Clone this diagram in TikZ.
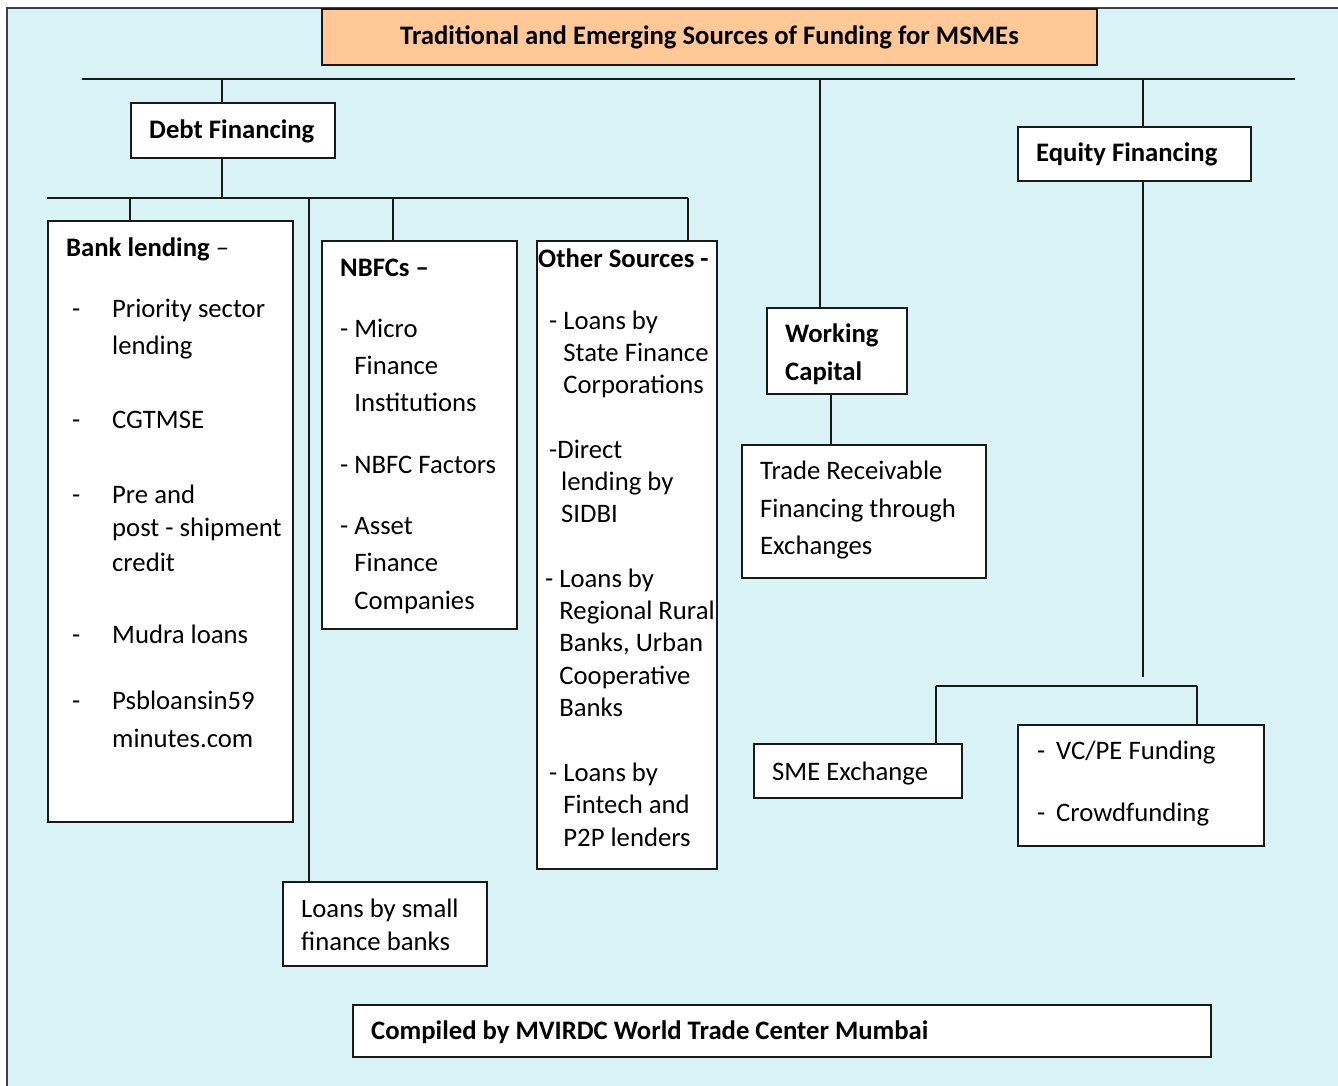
\documentclass[tikz,border=0pt]{standalone}
\usepackage{fontspec}
\setmainfont{Carlito}
\definecolor{paneblue}{HTML}{DAF3F7}
\definecolor{titlepeach}{HTML}{FFC896}

\begin{document}
\begin{tikzpicture}[
      x=1pt,y=-1pt,
      font=\fontsize{26.7}{37}\selectfont,
      panel/.style 2 args={draw=black!90,line width=2pt,fill=white,anchor=north west,inner sep=0pt,minimum width=#1,minimum height=#2},
      words/.style={anchor=base west,inner sep=0pt},
      link/.style={draw=black!90,line width=2pt},
    ]
    \useasboundingbox (0,0) rectangle (1338,1086);
    \fill[paneblue] (7,8) rectangle (1345,1095);
    \draw[black!75,line width=1.5pt] (1345,8) -- (7,8) -- (7,1095);

    % boxes
    \node[panel={775pt}{56pt},fill=titlepeach] (title) at (321,8) {\textbf{Traditional and Emerging Sources of Funding for MSMEs}};
    \node[panel={204pt}{55pt}] (debt) at (130,102) {};
    \node[panel={233pt}{54pt}] (equity) at (1017,126) {};
    \node[panel={245pt}{601pt}] (bank) at (47,220) {};
    \node[panel={195pt}{388pt}] (nbfc) at (321,240) {};
    \node[panel={180pt}{628pt}] (other) at (536,240) {};
    \node[panel={204pt}{84pt}] (small banks) at (282,881) {};
    \node[panel={140pt}{86pt}] (working) at (766,307) {};
    \node[panel={244pt}{133pt}] (trade) at (741,444) {};
    \node[panel={208pt}{54pt}] (sme) at (753,743) {};
    \node[panel={246pt}{121pt}] (vcpe) at (1017,724) {};
    \node[panel={858pt}{52pt}] (compiled) at (352,1004) {};

    % texts
    \node[words] (debt text) at (149,139) {\textbf{Debt Financing}};
    \node[words] (equity text) at (1036,162) {\textbf{Equity Financing}};
    \node[words] (bank text) at (66,256) {\begin{tabular}[t]{@{}p{46pt}@{}l@{}}
      \multicolumn{2}{@{}l@{}}{\textbf{Bank lending} –}\\[24pt]
      \hspace*{6pt}- & Priority sector\\
      & lending\\[37pt]
      \hspace*{6pt}- & CGTMSE\\[38pt]
      \hspace*{6pt}- & Pre and\\[-4pt]
      & post - shipment\\[-2pt]
      & credit\\[35pt]
      \hspace*{6pt}- & Mudra loans\\[29pt]
      \hspace*{6pt}- & Psbloansin59\\[1pt]
      & minutes.com
    \end{tabular}};
    \node[words] (nbfc text) at (340,276) {\begin{tabular}[t]{@{}l@{}}
      \textbf{NBFCs –}\\[24pt]
      - Micro\\
      \phantom{- }Finance\\
      \phantom{- }Institutions\\[25pt]
      - NBFC Factors\\[24pt]
      - Asset\\
      \phantom{- }Finance\\[1pt]
      \phantom{- }Companies
    \end{tabular}};
    \node[words,font=\fontsize{26.7}{32}\selectfont] (other text) at (538,267) {\begin{tabular}[t]{@{}l@{}}
      \textbf{Other Sources -}\\[30pt]
      \hspace*{11pt}- Loans by\\
      \hspace*{11pt}\phantom{- }State Finance\\
      \hspace*{11pt}\phantom{- }Corporations\\[33pt]
      \hspace*{11pt}-Direct\\
      \hspace*{23pt}lending by\\
      \hspace*{23pt}SIDBI\\[33pt]
      \hspace*{7pt}- Loans by\\
      \hspace*{7pt}\phantom{- }Regional Rural\\
      \hspace*{7pt}\phantom{- }Banks, Urban\\[1pt]
      \hspace*{7pt}\phantom{- }Cooperative\\
      \hspace*{7pt}\phantom{- }Banks\\[33pt]
      \hspace*{11pt}- Loans by\\
      \hspace*{11pt}\phantom{- }Fintech and\\[1pt]
      \hspace*{11pt}\phantom{- }P2P lenders
    \end{tabular}};
    \node[words] (small banks text) at (301,917) {\begin{tabular}[t]{@{}l@{}}
      Loans by small\\[-4pt]
      finance banks
    \end{tabular}};
    \node[words] (working text) at (785,342) {\begin{tabular}[t]{@{}l@{}}
      \textbf{Working}\\[1pt]
      \textbf{Capital}
    \end{tabular}};
    \node[words] (trade text) at (760,479) {\begin{tabular}[t]{@{}l@{}}
      Trade Receivable\\[1pt]
      Financing through\\
      Exchanges
    \end{tabular}};
    \node[words] (sme text) at (772,780) {SME Exchange};
    \node[words] (vcpe text) at (1037,759) {\begin{tabular}[t]{@{}l@{}}
      \makebox[19pt][l]{-}VC/PE Funding\\[25pt]
      \makebox[19pt][l]{-}Crowdfunding
    \end{tabular}};
    \node[words] (compiled text) at (371,1039) {\textbf{Compiled by MVIRDC World Trade Center Mumbai}};

    % connectors
    \coordinate (top bus left) at (82,79);
    \coordinate (top bus right) at (1295,79);
    \coordinate (tap debt) at (222,79);
    \coordinate (tap working) at (820,79);
    \coordinate (tap equity) at (1143,79);
    \coordinate (debt bus left) at (47,198);
    \coordinate (debt bus right) at (688,198);
    \coordinate (tap bank) at (130,198);
    \coordinate (tap small banks) at (309,198);
    \coordinate (tap nbfc) at (393,198);
    \coordinate (tap trade) at (831,393);
    \coordinate (equity end) at (1143,677);
    \coordinate (equity bus left) at (936,686);
    \coordinate (equity bus right) at (1197,686);

    \draw[link] (top bus left) -- (top bus right);
    \draw[link] (tap debt) -- (tap debt |- debt.north);
    \draw[link] (tap working) -- (tap working |- working.north);
    \draw[link] (tap equity) -- (tap equity |- equity.north);
    \draw[link] (tap debt |- debt.south) -- (tap debt |- debt bus left);
    \draw[link] (debt bus left) -- (debt bus right);
    \draw[link] (tap bank) -- (tap bank |- bank.north);
    \draw[link] (tap small banks) -- (tap small banks |- small banks.north);
    \draw[link] (tap nbfc) -- (tap nbfc |- nbfc.north);
    \draw[link] (debt bus right) -- (debt bus right |- other.north);
    \draw[link] (tap trade) -- (tap trade |- trade.north);
    \draw[link] (tap equity |- equity.south) -- (equity end);
    \draw[link] (equity bus left) -- (equity bus right);
    \draw[link] (equity bus left) -- (equity bus left |- sme.north);
    \draw[link] (equity bus right) -- (equity bus right |- vcpe.north);
  \end{tikzpicture}
\end{document}
